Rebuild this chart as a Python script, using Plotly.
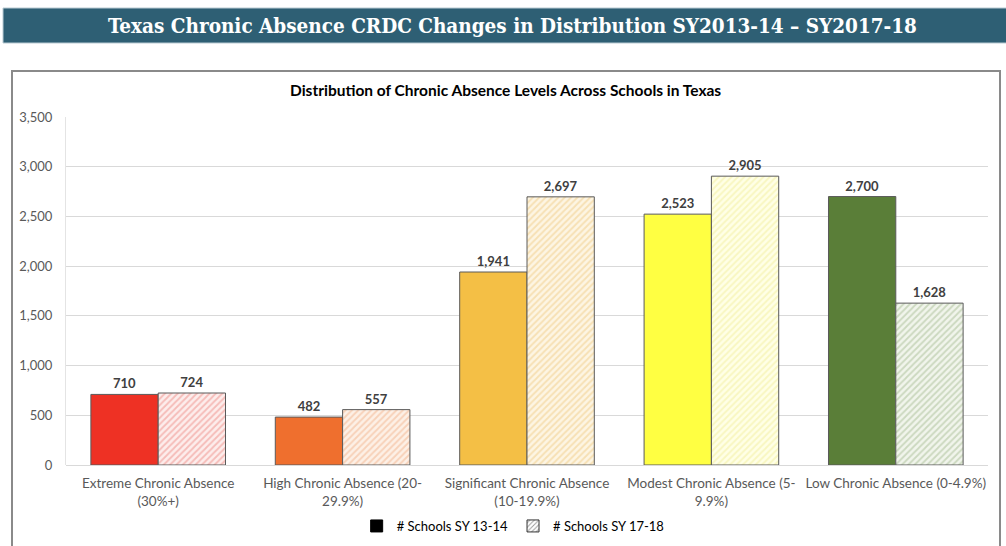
import plotly.graph_objects as go

categories = [
    "Extreme Chronic Absence<br>(30%+)",
    "High Chronic Absence (20-<br>29.9%)",
    "Significant Chronic Absence<br>(10-19.9%)",
    "Modest Chronic Absence (5-<br>9.9%)",
    "Low Chronic Absence (0-4.9%)",
]
schools_13_14 = [710, 482, 1941, 2523, 2700]
schools_17_18 = [724, 557, 2697, 2905, 1628]
solid_colors = ["#EE3124", "#EF6F2E", "#F4BF45", "#FFFF42", "#5A7E38"]
hatch_colors = ["#EE8A84", "#F2B18A", "#F0CB84", "#F2EE9A", "#A6BC92"]
hatch_bg = ["#FDEDEC", "#FDF0E6", "#FDF5E3", "#FFFFE6", "#F1F5EC"]

W, H = 1006, 546
L, R, T, B = 66, 988, 117, 465

def px(x):
    return (x - L) / (R - L)

def py(y):
    return (B - y) / (B - T)

font_main = "Lato, 'Open Sans', sans-serif"
label_font = dict(family=font_main, size=13, color="#404040", weight="bold")

fig = go.Figure()
for i, cat in enumerate(categories):
    fig.add_trace(go.Bar(
        x=[cat], y=[schools_13_14[i]], name="# Schools SY 13-14", offsetgroup="a",
        marker=dict(color=solid_colors[i], line=dict(color="#5A5A5A", width=1)),
        text=[f"{schools_13_14[i]:,}"], textposition="outside", textfont=label_font,
        cliponaxis=False, showlegend=False,
    ))
    fig.add_trace(go.Bar(
        x=[cat], y=[schools_17_18[i]], name="# Schools SY 17-18", offsetgroup="b",
        marker=dict(color=hatch_bg[i], line=dict(color="#5A5A5A", width=1),
                    pattern=dict(shape="/", fgcolor=hatch_colors[i], bgcolor=hatch_bg[i],
                                 size=4.5, solidity=0.4, fillmode="overlay")),
        text=[f"{schools_17_18[i]:,}"], textposition="outside", textfont=label_font,
        cliponaxis=False, showlegend=False,
    ))
# legend-only traces on a hidden overlay axis
fig.add_trace(go.Bar(x=[0], y=[None], name="# Schools SY 13-14", xaxis="x2", yaxis="y2",
                     marker=dict(color="#000000", line=dict(color="#000000", width=1))))
fig.add_trace(go.Bar(x=[0], y=[None], name="# Schools SY 17-18", xaxis="x2", yaxis="y2",
                     marker=dict(color="#FFFFFF", line=dict(color="#333333", width=1),
                                 pattern=dict(shape="/", fgcolor="#333333", bgcolor="#FFFFFF",
                                              size=4, solidity=0.3))))

fig.update_layout(
    width=W, height=H,
    margin=dict(l=L, r=W - R, t=T, b=H - B, pad=0, autoexpand=False),
    paper_bgcolor="white", plot_bgcolor="white",
    barmode="group", bargap=0.27, bargroupgap=0,
    font=dict(family=font_main, color="#595959"),
    xaxis=dict(tickfont=dict(size=13.5, color="#595959"), showline=False,
               ticks="outside", ticklen=6, tickcolor="rgba(0,0,0,0)", showgrid=False),
    yaxis=dict(range=[0, 3500], dtick=500, tickformat=",", showgrid=True,
               gridcolor="#D9D9D9", gridwidth=1, zeroline=True, zerolinecolor="#D9D9D9",
               zerolinewidth=1, tickfont=dict(size=13, color="#595959"),
               ticks="outside", ticklen=10, tickcolor="rgba(0,0,0,0)",
               showline=True, linecolor="#E4E4E4", linewidth=1),
    xaxis2=dict(overlaying="x", visible=False, range=[10, 11]),
    yaxis2=dict(overlaying="y", visible=False, range=[0, 1]),
    legend=dict(orientation="h", x=0.485, xanchor="center", y=py(526), yanchor="middle",
                font=dict(size=13, color="#000000"), itemwidth=30,
                bgcolor="rgba(0,0,0,0)"),
    shapes=[
        dict(type="rect", xref="paper", yref="paper",
             x0=px(3), x1=px(1008), y0=py(8), y1=py(43),
             fillcolor="#2E5F74", line=dict(color="#B9CBD3", width=1), layer="below"),
        dict(type="rect", xref="paper", yref="paper",
             x0=px(12), x1=px(1000), y0=py(71), y1=py(560),
             fillcolor="rgba(0,0,0,0)", line=dict(color="#8A8A8A", width=2), layer="below"),
    ],
    annotations=[
        dict(text="<b>Texas Chronic Absence CRDC Changes in Distribution SY2013-14 – SY2017-18</b>",
             xref="paper", yref="paper", x=px(512), y=py(26), xanchor="center", yanchor="middle",
             showarrow=False, font=dict(family="'DejaVu Serif Condensed', 'DejaVu Serif', serif",
                                        size=20.5, color="white")),
        dict(text="<b>Distribution of Chronic Absence Levels Across Schools in Texas</b>",
             xref="paper", yref="paper", x=px(505), y=py(90), xanchor="center", yanchor="middle",
             showarrow=False, font=dict(family=font_main, size=15.5, color="#000000")),
    ],
)

fig.write_html("out.html")
